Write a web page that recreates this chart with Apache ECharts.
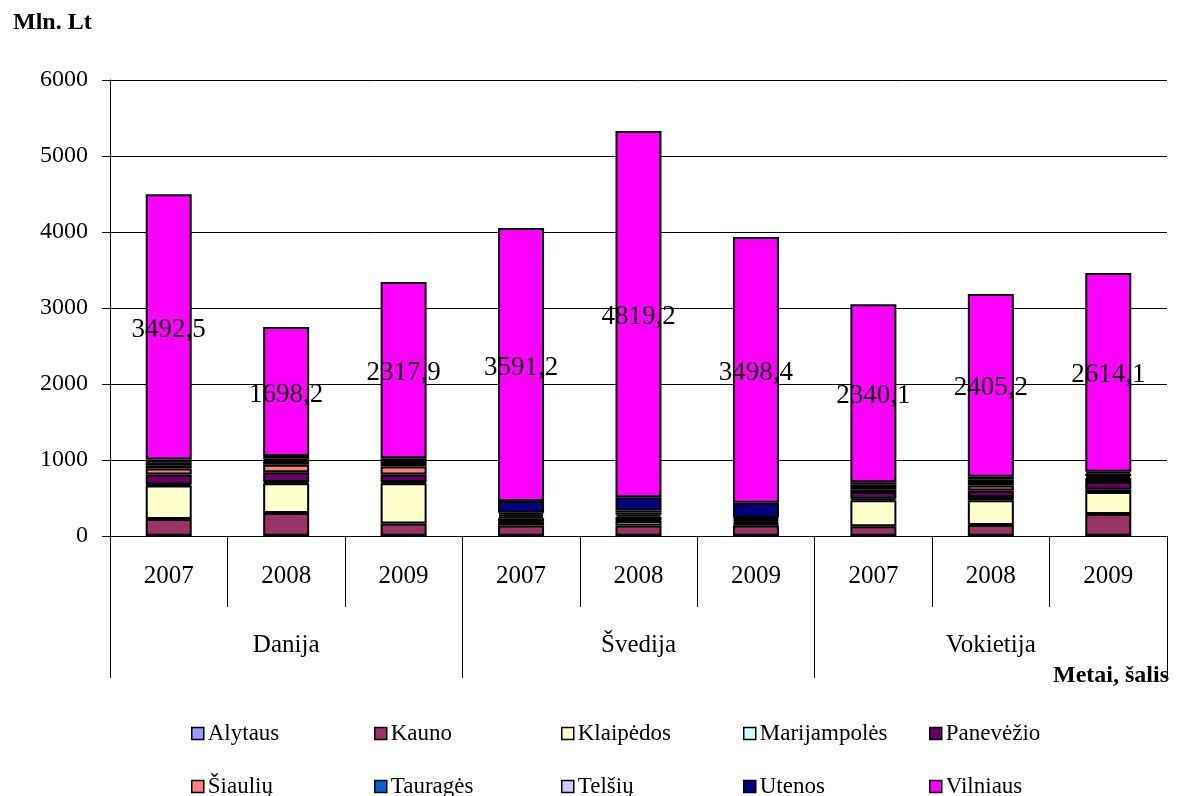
<!DOCTYPE html>
<html>
<head>
<meta charset="utf-8">
<script src="https://cdn.jsdelivr.net/npm/echarts@6/dist/echarts.min.js"></script>
<style>
html,body{margin:0;padding:0;background:#fff;}
#chart{width:1194px;height:796px;}
</style>
</head>
<body>
<div id="chart"></div>
<script>
const countries = ['Danija', 'Švedija', 'Vokietija'];
const years = ['2007', '2008', '2009'];
const yTicks = [0, 1000, 2000, 3000, 4000, 5000, 6000];

const regionNames = ['Alytaus', 'Kauno', 'Klaipėdos', 'Marijampolės', 'Panevėžio', 'Šiaulių', 'Tauragės', 'Telšių', 'Utenos', 'Vilniaus'];
const regionColors = ['#9999FF', '#993366', '#FFFFCC', '#CCFFFF', '#660066', '#FF8080', '#0066CC', '#CCCCFF', '#000080', '#FF00FF'];

const alytaus      = [4, 4, 4, 3, 3, 3, 4, 4, 4];
const kauno        = [220, 300, 160, 135, 135, 135, 125, 140, 285];
const klaipedos    = [440, 390, 530, 45, 60, 20, 340, 325, 290];
const marijampoles = [15, 15, 15, 10, 10, 10, 20, 45, 30];
const panevezio    = [130, 130, 100, 40, 45, 25, 90, 85, 100];
const siauliu      = [80, 100, 105, 25, 25, 15, 35, 65, 55];
const taurages     = [35, 35, 35, 25, 30, 20, 30, 35, 25];
const telsiu       = [41, 41, 41, 22, 27, 17, 31, 41, 31];
const utenos       = [40, 37, 34, 157, 175, 191, 33, 39, 26];
const vilniaus     = [3492.5, 1698.2, 2317.9, 3591.2, 4819.2, 3498.4, 2340.1, 2405.2, 2614.1];

const seriesValues = [alytaus, kauno, klaipedos, marijampoles, panevezio, siauliu, taurages, telsiu, utenos, vilniaus];

const catKeys = [];
countries.forEach(c => years.forEach(y => catKeys.push(c + '|' + y)));

const FONT = '"Liberation Serif", "Times New Roman", serif';

const series = regionNames.map((name, i) => ({
  name: name,
  type: 'bar',
  stack: 'total',
  barWidth: 46,
  data: seriesValues[i],
  itemStyle: { color: regionColors[i], borderColor: '#000', borderWidth: 2 },
  emphasis: { disabled: true },
  label: name === 'Vilniaus' ? {
    show: true,
    position: 'inside',
    color: '#000',
    fontFamily: FONT,
    fontSize: 27,
    offset: [0, 3],
    formatter: p => String(p.value).replace('.', ',')
  } : { show: false }
}));

const legendCols = [191, 374, 561, 743, 929];
const legendRows = [722, 775];
const legends = regionNames.map((name, i) => ({
  orient: 'horizontal',
  left: legendCols[i % 5],
  top: legendRows[Math.floor(i / 5)],
  padding: 0,
  itemWidth: 12,
  itemHeight: 12,
  icon: 'rect',
  selectedMode: false,
  data: [name],
  itemStyle: { borderColor: '#000', borderWidth: 1.5 },
  textStyle: { fontFamily: FONT, fontSize: 23, color: '#000', padding: [0, 0, 0, -1] }
}));

const chart = echarts.init(document.getElementById('chart'), null, { renderer: 'canvas' });
chart.setOption({
  backgroundColor: '#fff',
  animation: false,
  title: {
    text: 'Mln. Lt',
    left: 8,
    top: 6,
    textStyle: { fontFamily: FONT, fontSize: 24, fontWeight: 'bold', color: '#000' }
  },
  graphic: [{
    type: 'text',
    left: 1053,
    top: 664,
    style: { text: 'Metai, šalis', fontFamily: FONT, fontSize: 24, fontWeight: 'bold', fill: '#000' }
  }],
  legend: legends,
  grid: { left: 110, right: 27, top: 80, bottom: 260, containLabel: false },
  xAxis: [{
    type: 'category',
    data: catKeys,
    position: 'bottom',
    axisLine: { show: true, lineStyle: { color: '#000', width: 1 } },
    axisTick: { show: true, interval: 0, length: 71, lineStyle: { color: '#000', width: 1 } },
    axisLabel: {
      interval: 0,
      margin: 28,
      fontFamily: FONT,
      fontSize: 25,
      color: '#000',
      formatter: v => v.split('|')[1]
    },
    splitLine: { show: false }
  }, {
    type: 'category',
    data: countries,
    position: 'bottom',
    axisLine: { show: false },
    axisTick: { show: true, interval: 0, length: 142, lineStyle: { color: '#000', width: 1 } },
    axisLabel: { interval: 0, margin: 97, fontFamily: FONT, fontSize: 25, color: '#000' },
    splitLine: { show: false }
  }],
  yAxis: {
    type: 'value',
    min: 0,
    max: 6000,
    interval: 1000,
    axisLine: { show: true, lineStyle: { color: '#000', width: 1 } },
    axisTick: { show: true, length: 8, lineStyle: { color: '#000', width: 1 } },
    axisLabel: {
      margin: 22,
      fontFamily: FONT,
      fontSize: 24,
      color: '#000',
      formatter: v => yTicks.indexOf(v) >= 0 ? String(v) : ''
    },
    splitLine: { show: true, lineStyle: { color: '#000', width: 1 } }
  },
  series: series
});
</script>
</body>
</html>
